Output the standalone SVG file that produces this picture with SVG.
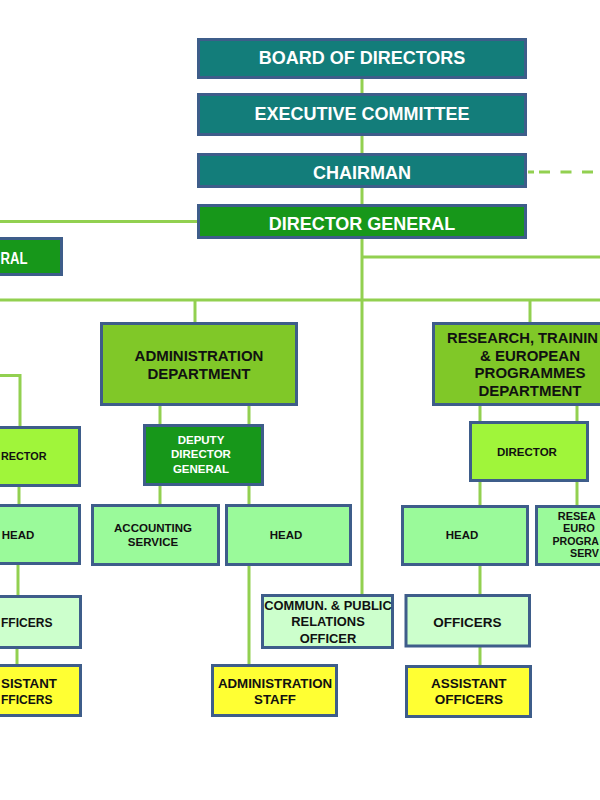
<svg xmlns="http://www.w3.org/2000/svg" width="600" height="800" viewBox="0 0 600 800">
<style>
.box{stroke:#3e5d8a;stroke-width:3}
.teal{fill:#137d7a}
.dg{fill:#17971a}
.dept{fill:#80c828}
.dir{fill:#a0f53a}
.head{fill:#9afa9a}
.off{fill:#ccffcc}
.yel{fill:#ffff33}
text{font-family:"Liberation Sans",Arial,sans-serif;font-weight:bold}
.w{fill:#ffffff}
.k{fill:#111111}
.c{text-anchor:middle}
.e{text-anchor:end}
.t18{font-size:18px}
.t15{font-size:15px}
.t135{font-size:13.5px}
.t115{font-size:11.5px}
.t11{font-size:11px}
.con{stroke:#92d050;stroke-width:3;fill:none}
</style>
<rect width="600" height="800" fill="#ffffff"/>
<g id="connectors" class="con">
<path d="M362,79 V596"/>
<path d="M197,221.5 H0"/>
<path d="M362,257 H600"/>
<path d="M0,300 H600"/>
<path d="M195,300 V322"/>
<path d="M530,300 V322"/>
<path d="M160,406 V504"/>
<path d="M249,406 V664"/>
<path d="M480,406 V666"/>
<path d="M577,406 V505"/>
<path d="M0,375.5 H20 V426"/>
<path d="M19,487 V504"/>
<path d="M18,565 V595"/>
<path d="M17,649 V664"/>
<path d="M528,172 H534 M539,172 H550 M560.5,172 H571.5 M582,172 H593"/>
</g>
<g id="board"><rect class="box teal" x="198.5" y="39.5" width="327" height="38"/><text class="w c t18" x="362" y="63.5">BOARD OF DIRECTORS</text></g>
<g id="executive"><rect class="box teal" x="198.5" y="94.5" width="327" height="40"/><text class="w c t18" x="362" y="119.5">EXECUTIVE COMMITTEE</text></g>
<g id="chairman"><rect class="box teal" x="198.5" y="154.5" width="327" height="32"/><text class="w c t18" x="362" y="179">CHAIRMAN</text></g>
<g id="director-general"><rect class="box dg" x="198.5" y="205.5" width="327" height="32"/><text class="w c t18" x="362" y="230">DIRECTOR GENERAL</text></g>
<g id="left-general"><rect class="box dg" x="-10" y="238.5" width="71.5" height="36"/><text class="w" style="font-size:16.5px" x="0.5" y="263.5" textLength="27" lengthAdjust="spacingAndGlyphs">RAL</text></g>
<g id="admin-dept"><rect class="box dept" x="101.5" y="323.5" width="195" height="81"/><text class="k c t15" x="199" y="361">ADMINISTRATION</text><text class="k c t15" x="199" y="379">DEPARTMENT</text></g>
<g id="research-dept"><rect class="box dept" x="433.5" y="323.5" width="195" height="81"/><text class="k t15" x="447" y="342.5" textLength="151" lengthAdjust="spacingAndGlyphs">RESEARCH, TRAININ</text><text class="k c t15" x="530" y="360.5">&amp; EUROPEAN</text><text class="k c t15" x="530" y="378">PROGRAMMES</text><text class="k c t15" x="530" y="395.5">DEPARTMENT</text></g>
<g id="deputy-dg"><rect class="box dg" x="144.5" y="425.5" width="118" height="59"/><text class="w c t115" x="201" y="443.5">DEPUTY</text><text class="w c t115" x="201" y="458">DIRECTOR</text><text class="w c t115" x="201" y="472.5">GENERAL</text></g>
<g id="left-director"><rect class="box dir" x="-40" y="427.5" width="119.5" height="58"/><text class="k t115" x="1" y="460" textLength="45.5" lengthAdjust="spacingAndGlyphs">RECTOR</text></g>
<g id="research-director"><rect class="box dir" x="470.5" y="422.5" width="117" height="58"/><text class="k c t115" x="527" y="455.7">DIRECTOR</text></g>
<g id="left-head"><rect class="box head" x="-46" y="505.5" width="125.5" height="58"/><text class="k t115" x="1.7" y="539">HEAD</text></g>
<g id="accounting"><rect class="box head" x="92.5" y="505.5" width="126" height="59"/><text class="k c t115" x="153" y="531.7">ACCOUNTING</text><text class="k c t115" x="153" y="546">SERVICE</text></g>
<g id="admin-head"><rect class="box head" x="226.5" y="505.5" width="124" height="59"/><text class="k c t115" x="286" y="539.3">HEAD</text></g>
<g id="research-head"><rect class="box head" x="402.5" y="506.5" width="125" height="58"/><text class="k c t115" x="462" y="539.3">HEAD</text></g>
<g id="research-service"><rect class="box head" x="536.5" y="506.5" width="130" height="58"/><text class="k t11" x="557.7" y="519.5">RESEA</text><text class="k t11" x="563" y="532">EURO</text><text class="k t11" x="552.5" y="544.5" textLength="46.5" lengthAdjust="spacingAndGlyphs">PROGRA</text><text class="k t11" x="570" y="557" textLength="29" lengthAdjust="spacingAndGlyphs">SERV</text></g>
<g id="comm-officer"><rect class="box off" x="262.5" y="595.5" width="130" height="52"/><text class="k c" style="font-size:12.9px" x="328" y="610">COMMUN. &amp; PUBLIC</text><text class="k c" style="font-size:12.9px" x="328" y="626">RELATIONS</text><text class="k c" style="font-size:12.9px" x="328" y="642.5">OFFICER</text></g>
<g id="left-officers"><rect class="box off" x="-45" y="596.5" width="125.5" height="51"/><text class="k t135" x="1" y="626.7" textLength="51.5" lengthAdjust="spacingAndGlyphs">FFICERS</text></g>
<g id="research-officers"><rect class="box off" x="406" y="595.5" width="123.5" height="50.5"/><text class="k c t135" x="467.3" y="626.7">OFFICERS</text></g>
<g id="admin-staff"><rect class="box yel" x="212.5" y="665.5" width="124" height="50"/><text class="k c" style="font-size:13.3px" x="275" y="688.3">ADMINISTRATION</text><text class="k c" style="font-size:13.3px" x="275" y="704">STAFF</text></g>
<g id="left-assistant"><rect class="box yel" x="-45" y="665.5" width="125.5" height="50"/><text class="k t135" x="1" y="688.3" textLength="56" lengthAdjust="spacingAndGlyphs">SISTANT</text><text class="k t135" x="1" y="704" textLength="51.5" lengthAdjust="spacingAndGlyphs">FFICERS</text></g>
<g id="research-assistant"><rect class="box yel" x="406.5" y="666.5" width="124" height="50"/><text class="k c t135" x="468.8" y="688.3">ASSISTANT</text><text class="k c t135" x="468.8" y="704">OFFICERS</text></g>
</svg>
